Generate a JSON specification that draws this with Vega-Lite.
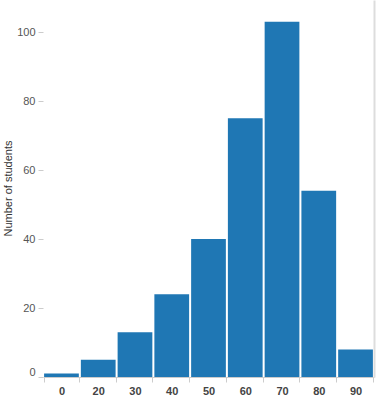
{
  "$schema": "https://vega.github.io/schema/vega-lite/v6.json",
  "width": 331,
  "height": 377,
  "autosize": {"type": "none"},
  "padding": {"left": 43, "top": 0, "right": 2, "bottom": 21},
  "config": {
    "view": {"stroke": null},
    "font": "Liberation Sans"
  },
  "data": {
    "values": [
      {"grade": "0", "students": 1},
      {"grade": "20", "students": 5},
      {"grade": "30", "students": 13},
      {"grade": "40", "students": 24},
      {"grade": "50", "students": 40},
      {"grade": "60", "students": 75},
      {"grade": "70", "students": 103},
      {"grade": "80", "students": 54},
      {"grade": "90", "students": 8}
    ]
  },
  "encoding": {
    "x": {
      "field": "grade",
      "type": "ordinal",
      "sort": null,
      "scale": {"paddingInner": 0.055, "paddingOuter": 0.03},
      "axis": {
        "title": null,
        "labelAngle": 0,
        "tickBand": "extent",
        "domainColor": "#cccccc",
        "tickColor": "#cccccc",
        "tickSize": 5,
        "labelPadding": 3,
        "labelFontSize": 11,
        "labelFontWeight": "bold",
        "labelColor": "#444444"
      }
    }
  },
  "layer": [
    {
      "mark": {"type": "bar", "color": "#1f77b4"},
      "encoding": {
        "y": {
          "field": "students",
          "type": "quantitative",
          "scale": {"domain": [0, 109.3], "nice": false},
          "axis": {
            "values": [0, 20, 40, 60, 80, 100],
            "title": "Number of students",
            "titleFontSize": 11,
            "titleFontWeight": "normal",
            "titleColor": "#333333",
            "titleX": -35,
            "titleY": 188,
            "titleAngle": -90,
            "titleAlign": "center",
            "titleBaseline": "middle",
            "grid": false,
            "domain": false,
            "tickColor": "#cccccc",
            "tickSize": 5,
            "labelPadding": 3,
            "labelFontSize": 11,
            "labelColor": "#555555",
            "labelFlush": true
          }
        }
      }
    },
    {
      "mark": {"type": "bar", "opacity": 0},
      "encoding": {
        "y": {
          "field": "students",
          "type": "quantitative",
          "scale": {"domain": [0, 109.3], "nice": false},
          "axis": {
            "orient": "right",
            "title": null,
            "labels": false,
            "ticks": false,
            "grid": false,
            "domain": true,
            "domainColor": "#dddddd",
            "domainWidth": 2
          }
        }
      }
    }
  ],
  "resolve": {"axis": {"y": "independent"}}
}
